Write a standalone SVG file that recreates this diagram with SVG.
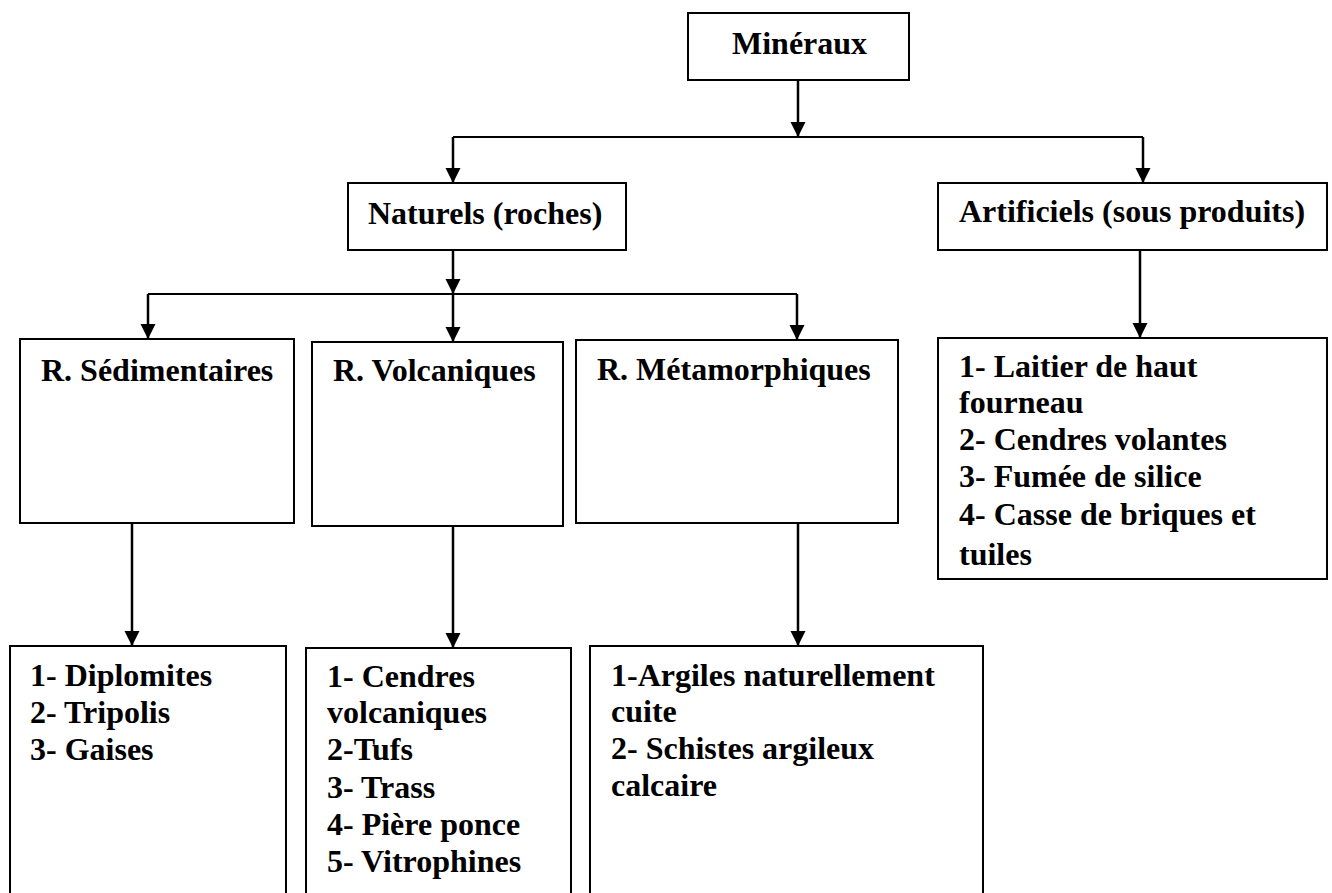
<svg xmlns="http://www.w3.org/2000/svg" width="1332" height="893" viewBox="0 0 1332 893">
<style>
.box{fill:#fff;stroke:#000;stroke-width:2}
.t{font-family:"Liberation Serif","Times New Roman",serif;font-weight:bold;font-size:32px;fill:#000}
.c{fill:none;stroke:#000;stroke-width:2}
.a{fill:none;stroke:#000;stroke-width:2.5;marker-end:url(#arr)}
</style>
<defs>
<marker id="arr" markerUnits="userSpaceOnUse" markerWidth="16" markerHeight="16" refX="15" refY="7.5" orient="auto">
<path d="M0,0 L15,7.5 L0,15 z" fill="#000"/>
</marker>
</defs>
<rect width="1332" height="893" fill="#fff"/>
<g id="connectors">
<line class="a" x1="798" y1="80" x2="798" y2="137"/>
<polyline class="c" points="453,137 1143,137"/>
<line class="a" x1="453" y1="137" x2="453" y2="183"/>
<line class="a" x1="1143" y1="137" x2="1143" y2="183"/>
<line class="a" x1="453" y1="250" x2="453" y2="294"/>
<polyline class="c" points="148,294 797,294"/>
<line class="a" x1="148" y1="294" x2="148" y2="339"/>
<line class="a" x1="453" y1="294" x2="453" y2="342"/>
<line class="a" x1="797" y1="294" x2="797" y2="340"/>
<line class="a" x1="1140" y1="250" x2="1140" y2="338"/>
<line class="a" x1="132" y1="523" x2="132" y2="646"/>
<line class="a" x1="453" y1="526" x2="453" y2="648"/>
<line class="a" x1="798" y1="523" x2="798" y2="646"/>
</g>
<g id="mineraux">
<rect class="box" x="688" y="13" width="221" height="67"/>
<text class="t" x="732" y="54">Minéraux</text>
</g>
<g id="naturels">
<rect class="box" x="348" y="183" width="278" height="67"/>
<text class="t" x="368" y="224">Naturels (roches)</text>
</g>
<g id="artificiels">
<rect class="box" x="938" y="183" width="389" height="67"/>
<text class="t" x="959" y="222">Artificiels (sous produits)</text>
</g>
<g id="sedimentaires">
<rect class="box" x="20" y="339" width="274" height="184"/>
<text class="t" x="41" y="381">R. Sédimentaires</text>
</g>
<g id="volcaniques">
<rect class="box" x="312" y="342" width="251" height="184"/>
<text class="t" x="333" y="381">R. Volcaniques</text>
</g>
<g id="metamorphiques">
<rect class="box" x="576" y="340" width="322" height="183"/>
<text class="t" x="597" y="380">R. Métamorphiques</text>
</g>
<g id="sous-produits">
<rect class="box" x="938" y="338" width="389" height="241"/>
<text class="t" x="959" y="377">1- Laitier de haut</text>
<text class="t" x="959" y="413">fourneau</text>
<text class="t" x="959" y="450">2- Cendres volantes</text>
<text class="t" x="959" y="487">3- Fumée de silice</text>
<text class="t" x="959" y="525">4- Casse de briques et</text>
<text class="t" x="959" y="565">tuiles</text>
</g>
<g id="liste-sedimentaires">
<rect class="box" x="10" y="646" width="276" height="260"/>
<text class="t" x="30" y="686">1- Diplomites</text>
<text class="t" x="30" y="723">2- Tripolis</text>
<text class="t" x="30" y="760">3- Gaises</text>
</g>
<g id="liste-volcaniques">
<rect class="box" x="306" y="648" width="265" height="260"/>
<text class="t" x="327" y="687">1- Cendres</text>
<text class="t" x="327" y="723">volcaniques</text>
<text class="t" x="327" y="760">2-Tufs</text>
<text class="t" x="327" y="798">3- Trass</text>
<text class="t" x="327" y="835">4- Pière ponce</text>
<text class="t" x="327" y="872">5- Vitrophines</text>
</g>
<g id="liste-metamorphiques">
<rect class="box" x="590" y="646" width="393" height="260"/>
<text class="t" x="611" y="686">1-Argiles naturellement</text>
<text class="t" x="611" y="722">cuite</text>
<text class="t" x="611" y="759">2- Schistes argileux</text>
<text class="t" x="611" y="796">calcaire</text>
</g>
</svg>
